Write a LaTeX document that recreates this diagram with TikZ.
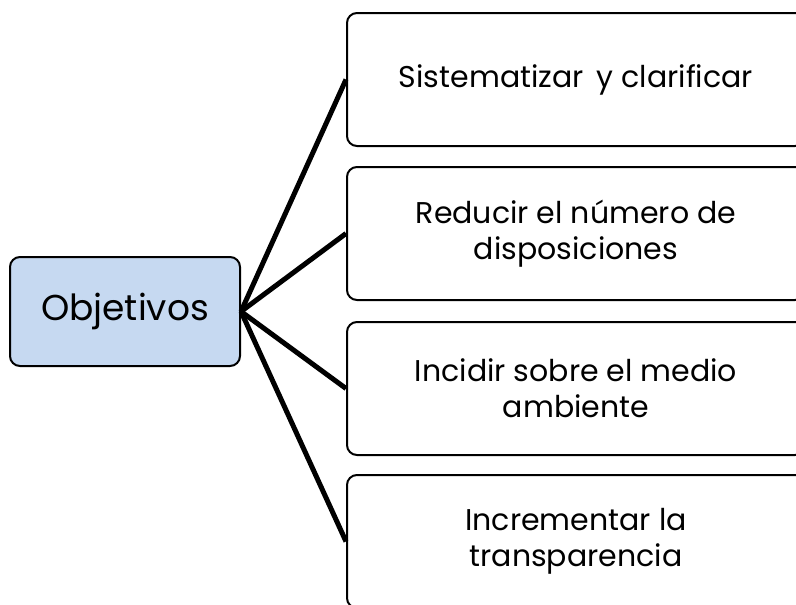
\documentclass[tikz,border=0pt]{standalone}
\usepackage{fontspec}
\setmainfont{Poppins}
\begin{document}
\begin{tikzpicture}[x=1pt,y=-1pt,
  conn/.style={line width=5pt, black}]
\definecolor{objblue}{HTML}{C6D9F1}
\clip (0,0) rectangle (796,605);
\fill[white] (0,0) rectangle (796,605);
% central node
\node[draw=black, line width=2pt, rounded corners=10pt, fill=objblue,
      minimum width=230pt, minimum height=109pt, inner sep=0pt,
      font=\fontsize{36}{42}\selectfont] (obj) at (125,311.5) {Objetivos};
% item boxes
\tikzset{item/.style={draw=black, line width=2pt, rounded corners=10pt, fill=white,
      minimum width=458pt, minimum height=133pt, inner sep=0pt, align=center,
      font=\fontsize{30}{36}\selectfont}}
\node[item] (a) at (576,79.5) {Sistematizar\, y clarificar};
\node[item] (b) at (576,233.5) {Reducir el número de\\disposiciones};
\node[item] (c) at (576,388.5) {Incidir sobre el medio\\ambiente};
\node[item] (d) at (576,541.5) {Incrementar la\\transparencia};
\foreach \t in {a,b,c,d}
  \draw[conn] (obj.east) -- (\t.west);
\end{tikzpicture}
\end{document}
